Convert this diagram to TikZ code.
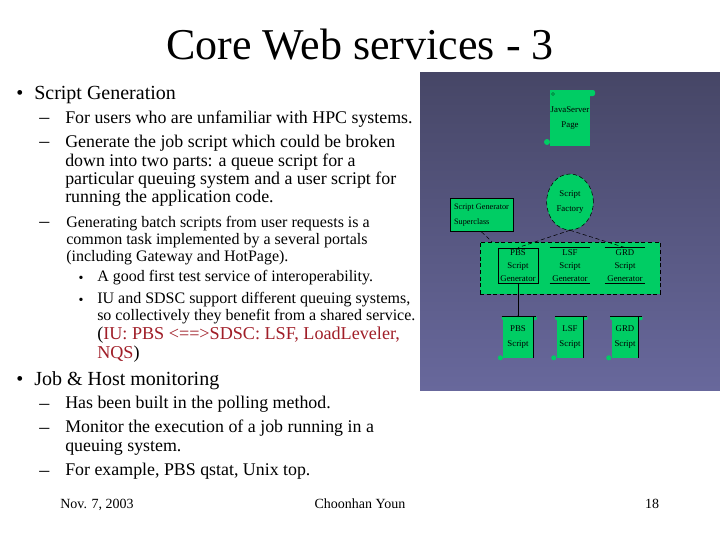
\documentclass[tikz,border=0pt]{standalone}
\usepackage{fontspec}
\usetikzlibrary{shapes.geometric}
\setmainfont{Liberation Serif}
\definecolor{boxgreen}{RGB}{0,205,100}
\definecolor{darkred}{RGB}{160,30,40}
\definecolor{panetop}{RGB}{70,70,102}
\definecolor{panebottom}{RGB}{104,104,156}
\tikzset{
  title/.style = {anchor=base, font=\fontsize{33}{36}\selectfont},
  headtext/.style = {anchor=base west, inner sep=0pt, font=\fontsize{15}{18}\selectfont},
  subtext/.style = {anchor=north west, align=left, inner sep=0pt, font=\fontsize{13.4}{13.8}\selectfont},
  smalltext/.style = {anchor=north west, align=left, inner sep=0pt, font=\fontsize{12}{12.7}\selectfont},
  bullettext/.style = {anchor=north west, align=left, inner sep=0pt, font=\fontsize{12}{13}\selectfont},
  redtext/.style = {anchor=north west, align=left, inner sep=0pt, font=\fontsize{13.6}{13.8}\selectfont},
  foottext/.style = {anchor=base, font=\fontsize{10.5}{12}\selectfont},
  tinytext/.style = {align=center, inner sep=0pt, font=\fontsize{6.6}{11.2}\selectfont,
    execute at begin node={\rule{0pt}{9pt}}},
  scrollbox/.style = {tinytext, fill=boxgreen, minimum width=#1, minimum height=41*0.75pt},
  genbox/.style = {tinytext, font=\fontsize{6.6}{9.8}\selectfont, minimum width=30pt, minimum height=26.5pt}
}
\begin{document}
\begin{tikzpicture}[x=0.75pt, y=-0.75pt]
  \useasboundingbox (0,0) rectangle (720,540);
  % slide text
  \node[title] (heading) at (360,59) {Core Web services - 3};
  \node[headtext] (dot1) at (16,99) {•};
  \node[headtext] (script) at (34,99) {Script Generation};
  \node[headtext] (dash1) at (39,123) {–};
  \node[subtext] (users) at (65,111) {For users who are unfamiliar with HPC systems.};
  \node[headtext] (dash2) at (39,147) {–};
  \node[subtext] (generate) at (65,135) {Generate the job script which could be broken\\
    down into two parts: a queue script for a\\
    particular queuing system and a user script for\\
    running the application code.};
  \node[headtext] (dash3) at (39,227) {–};
  \node[smalltext] (batch) at (66,216) {Generating batch scripts from user requests is a\\
    common task implemented by a several portals\\
    (including Gateway and HotPage).};
  \node[foottext] (dot2) at (81,282) {•};
  \node[bullettext] (good) at (97,270) {A good first test service of interoperability.};
  \node[foottext] (dot3) at (81,304) {•};
  \node[bullettext] (iu) at (97,292) {IU and SDSC support different queuing systems,\\
    so collectively they benefit from a shared service.};
  \node[redtext] (red) at (97,327) {(\textcolor{darkred}{IU: PBS <==>SDSC: LSF, LoadLeveler,}\\
    \textcolor{darkred}{NQS})};
  \node[headtext] (dot4) at (16,385) {•};
  \node[headtext] (job) at (34,385) {Job \& Host monitoring};
  \node[headtext] (dash4) at (39,409) {–};
  \node[subtext] (polling) at (65,396) {Has been built in the polling method.};
  \node[headtext] (dash5) at (39,433) {–};
  \node[subtext] (monitor) at (65,420) {Monitor the execution of a job running in a\\
    queuing system.};
  \node[headtext] (dash6) at (39,476) {–};
  \node[subtext] (example) at (65,463) {For example, PBS qstat, Unix top.};
  \node[foottext] (date) at (97,508) {Nov. 7, 2003};
  \node[foottext] (author) at (360,508) {Choonhan Youn};
  \node[foottext] (page) at (652,508) {18};
  % picture on the right
  \shade[top color=panetop, bottom color=panebottom] (420,72) rectangle (720,390);
  \node[scrollbox=30pt, minimum height=42pt] (jsp) at (570,118) {JavaServer\\Page};
  \fill[boxgreen, rounded corners=1.5pt] (551,90) rectangle (595,96);
  \draw[black, very thin] (553,94) circle (1.5);
  \fill[boxgreen] (547,142) circle (3);
  \node[ellipse, draw, densely dashed, fill=boxgreen, tinytext, minimum width=35pt, minimum height=42pt] (factory) at (570,202) {Script\\Factory};
  \node[draw, fill=boxgreen, minimum width=47.5pt, minimum height=25pt, inner sep=0pt, font=\fontsize{6.2}{10.8}\selectfont, align=left] (super) at (481.5,215) {Script Generator\\Superclass};
  \node[draw, densely dashed, fill=boxgreen, minimum width=135pt, minimum height=39pt, inner sep=0pt] (group) at (570,268) {};
  \node[genbox, draw] (pbsgen) at (518,265.5) {PBS\\Script\\Generator};
  \node[genbox] (lsfgen) at (570,265.5) {LSF\\Script\\Generator};
  \node[genbox] (grdgen) at (625,265.5) {GRD\\Script\\Generator};
  \foreach \gen in {lsfgen,grdgen} {
    \draw (\gen.north west) -- (\gen.north east);
    \draw (\gen.south west) -- (\gen.south east);
  }
  \node[scrollbox=22pt] (pbsscript) at (518,337) {PBS\\Script};
  \node[scrollbox=20pt] (lsfscript) at (570,337) {LSF\\Script};
  \node[scrollbox=20pt] (grdscript) at (625,337) {GRD\\Script};
  \foreach \sc in {pbsscript,lsfscript,grdscript} {
    \fill[boxgreen, rounded corners=1pt] ([xshift=-1pt]\sc.north west) rectangle ([xshift=3pt,yshift=-3pt]\sc.north east);
    \draw ([xshift=-1pt]\sc.north west) -- ([xshift=2.5pt]\sc.north east);
    \draw (\sc.north east) -- (\sc.south east);
    \fill[boxgreen] ([xshift=-2pt]\sc.south west) circle (2.5);
  }
  \draw[densely dashed] (factory.south) -- (pbsgen.north);
  \draw[densely dashed] (factory.south) -- (grdgen.north);
  \draw[densely dashed] (super.south) -- ([xshift=-58.5pt]group.north);
  \draw (pbsgen.south) -- (pbsscript.north);
  \fill (pbsscript.north) circle (1);
\end{tikzpicture}
\end{document}
